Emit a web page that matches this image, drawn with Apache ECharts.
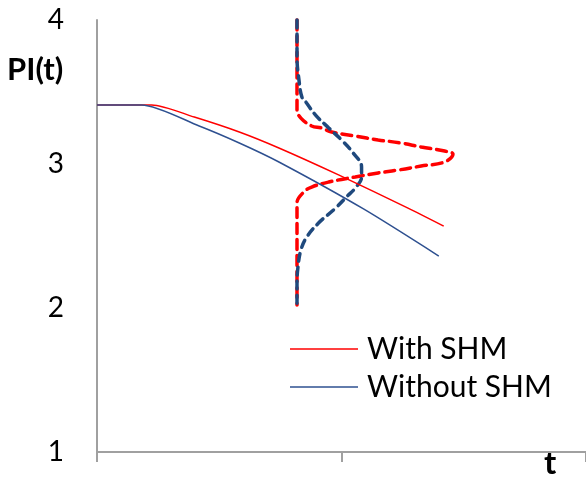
<!DOCTYPE html>
<html>
<head>
<meta charset="utf-8">
<style>
  html, body { margin: 0; padding: 0; background: #ffffff; }
  #chart { width: 586px; height: 478px; }
</style>
<script src="https://cdn.jsdelivr.net/npm/echarts@6/dist/echarts.min.js"></script>
</head>
<body>
<div id="chart"></div>
<script>
// Performance index PI(t) over time t, with and without structural health monitoring (SHM)
var yTicks = [1, 2, 3, 4];

// Mean PI(t) curves: [t, PI]
var withSHM = [
  [0, 3.41], [11.2, 3.41], [19.9, 3.326], [29.1, 3.222], [37.2, 3.111],
  [49.4, 2.924], [63.6, 2.694], [70.9, 2.569]
];
var withoutSHM = [
  [0, 3.41], [9.1, 3.41], [20.9, 3.264], [29.1, 3.146], [37.2, 3.014],
  [54.5, 2.688], [69.9, 2.361]
];

// Spread of PI at a given time, drawn sideways from t = 40.9
var spreadWithSHM = [
  [40.9, 4.0], [40.9, 3.375], [41.7, 3.319], [43.9, 3.264], [45.9, 3.25],
  [48.0, 3.222], [52.8, 3.194], [57.5, 3.167], [62.2, 3.146], [66.3, 3.118],
  [71.1, 3.090], [72.8, 3.069],
  [71.1, 3.014], [66.3, 2.986], [61.6, 2.958], [57.5, 2.938], [52.8, 2.910],
  [47.4, 2.875], [43.9, 2.840], [42.3, 2.806], [40.9, 2.729], [40.9, 2.521], [40.9, 2.021]
];
var spreadWithoutSHM = [
  [40.9, 4.0], [40.9, 3.743], [41.3, 3.583], [41.9, 3.465], [42.7, 3.431],
  [44.7, 3.340], [47.4, 3.250], [50.0, 3.167], [52.4, 3.076], [54.1, 2.979],
  [54.1, 2.910], [53.0, 2.840], [51.0, 2.771], [48.8, 2.694], [45.3, 2.590],
  [42.9, 2.493], [41.7, 2.403], [41.1, 2.285], [40.9, 2.174], [40.9, 2.007]
];

var RED = '#ff0000';
var NAVY = '#1f497d';
var BLUE = '#2e5090';
var AXIS = '#a0a0a0';
var FONT = 'Lato, "Open Sans", sans-serif';

var chart = echarts.init(document.getElementById('chart'), null, { renderer: 'canvas' });

chart.setOption({
  animation: false,
  backgroundColor: '#ffffff',
  grid: { left: 97, top: 20, width: 492, height: 432, containLabel: false },
  xAxis: {
    type: 'value',
    min: 0, max: 100, interval: 50,
    axisLine: { show: true, lineStyle: { color: AXIS, width: 2 } },
    axisTick: { show: true, inside: false, length: 10, lineStyle: { color: AXIS, width: 2 } },
    axisLabel: { show: false },
    splitLine: { show: false }
  },
  yAxis: {
    type: 'value',
    min: yTicks[0], max: yTicks[yTicks.length - 1], interval: 1,
    axisLine: { show: true, lineStyle: { color: AXIS, width: 2 } },
    axisTick: { show: false },
    axisLabel: {
      margin: 33, fontSize: 28, color: '#000000', fontFamily: FONT,
      formatter: function (v) { return yTicks.indexOf(v) >= 0 ? String(v) : ''; }
    },
    splitLine: { show: false }
  },
  legend: {
    orient: 'vertical',
    left: 290, top: 334, padding: 0,
    icon: 'rect',
    itemWidth: 68, itemHeight: 1.5, itemGap: 8,
    data: ['With SHM', 'Without SHM'],
    textStyle: { fontSize: 30, fontFamily: FONT, color: '#000000', lineHeight: 30, padding: [0, 0, 0, 4] }
  },
  graphic: [
    { type: 'text', left: 7, top: 54,
      style: { text: 'PI(t)', fontSize: 31, fontWeight: 'bold', fontFamily: FONT, fill: '#000000' } },
    { type: 'text', left: 544, top: 447,
      style: { text: 't', fontSize: 33, fontWeight: 'bold', fontFamily: FONT, fill: '#000000' } }
  ],
  series: [
    {
      name: 'With SHM', type: 'line', data: withSHM, smooth: 0.25,
      symbol: 'none', lineStyle: { color: RED, width: 1.5 }, itemStyle: { color: RED }, z: 3
    },
    {
      name: 'Without SHM', type: 'line', data: withoutSHM, smooth: 0.25,
      symbol: 'none', lineStyle: { color: BLUE, width: 1.5 }, itemStyle: { color: BLUE }, z: 3
    },
    {
      name: 'Spread with SHM', type: 'line', data: spreadWithSHM, smooth: 0.4,
      symbol: 'none', clip: false,
      lineStyle: { color: RED, width: 3.5, type: [10, 6], cap: 'round' }, z: 2
    },
    {
      name: 'Spread without SHM', type: 'line', data: spreadWithoutSHM, smooth: 0.4,
      symbol: 'none', clip: false,
      lineStyle: { color: NAVY, width: 3.5, type: [8, 6], cap: 'round' }, z: 2
    }
  ]
});
</script>
</body>
</html>
